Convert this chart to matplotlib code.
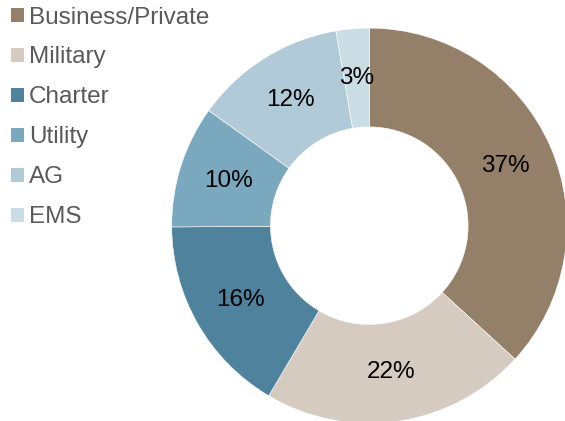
import matplotlib.pyplot as plt
from matplotlib.patches import Patch

plt.rcParams['font.family'] = ['Liberation Sans', 'DejaVu Sans']

# data (shares, labels rounded)
labels = ['Business/Private', 'Military', 'Charter', 'Utility', 'AG', 'EMS']
shares = [36.8, 21.7, 16.4, 10.0, 12.4, 2.7]
colors = ['#947f68', '#d5cbc1', '#4f829c', '#7aa8be', '#b1cad8', '#cadde5']

W, H = 565, 421
fig = plt.figure(figsize=(W / 100, H / 100), dpi=100)

# donut centre and radius in pixels (from the top-left corner)
cx, cy, r = 369.3, 225.7, 197.6
ax = fig.add_axes([(cx - r) / W, (H - cy - r) / H, 2 * r / W, 2 * r / H])

wedges, texts = ax.pie(shares, colors=colors, startangle=90, counterclock=False,
                       labels=['%.0f%%' % s for s in shares], labeldistance=0.75,
                       wedgeprops=dict(width=0.5, edgecolor='white', linewidth=0.4),
                       textprops=dict(fontsize=17.5, color='black', ha='center', va='center'))
ax.set_xlim(-1, 1)
ax.set_ylim(-1, 1)
ax.set_aspect('equal')
ax.axis('off')
for w in wedges:
    w.set_clip_on(False)

handles = [Patch(facecolor=c, edgecolor='none') for c in colors]
leg = fig.legend(handles, labels, loc='upper left', bbox_to_anchor=(11 / W, 1 - 6.5 / H),
                 frameon=False, fontsize=17.5, labelcolor='#595959',
                 handlelength=0.55, handleheight=0.55, handletextpad=0.18,
                 labelspacing=0.74, borderaxespad=0.0, borderpad=0.0)

fig.savefig('out.png', dpi=100)
